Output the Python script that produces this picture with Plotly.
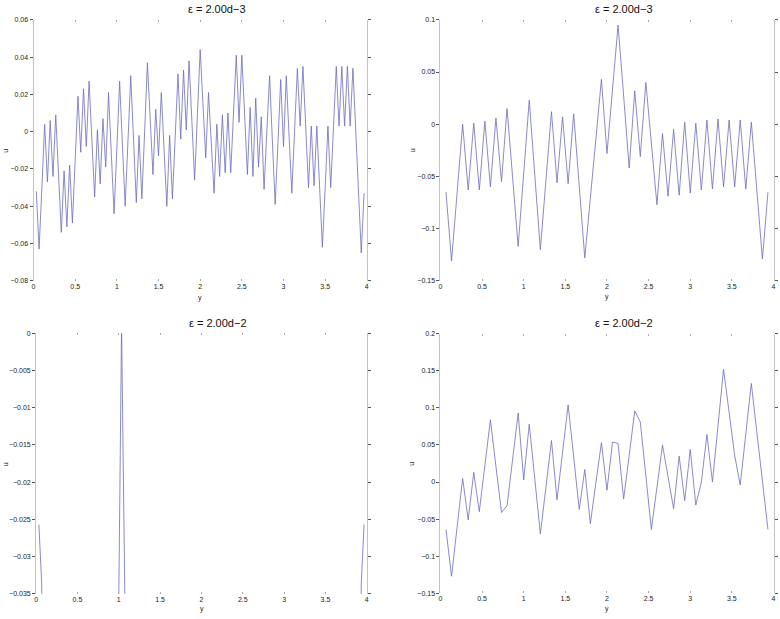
import plotly.graph_objects as go

W, H = 780, 619

# ---------------- data ----------------
tick_x = [0, 0.5, 1, 1.5, 2, 2.5, 3, 3.5, 4]
titles = ["ε = 2.00d−3", "ε = 2.00d−3", "ε = 2.00d−2", "ε = 2.00d−2"]

# top-left: grid step 1/30, k = 1..119
tl_u = [-0.032, -0.063, -0.030, 0.004, -0.027, 0.006, -0.024, 0.009, -0.023, -0.054,
        -0.021, -0.051, -0.018, -0.049, -0.015, 0.019, -0.011, 0.023, -0.008, 0.027,
        -0.004, -0.035, 0.001, -0.028, 0.007, -0.019, 0.021, -0.012, -0.044, -0.009,
        0.027, -0.007, -0.040, -0.005, 0.030, -0.004, -0.038, -0.002, -0.036, 0.000,
        0.037, 0.007, -0.023, 0.012, -0.013, 0.021, -0.010, -0.040, -0.002, -0.036,
        -0.003, 0.031, -0.004, 0.033, 0.001, 0.038, 0.006, -0.026, 0.009, 0.044,
        0.015, -0.014, 0.021, -0.006, -0.033, 0.004, -0.024, 0.009, -0.022, 0.010,
        -0.022, 0.010, 0.041, 0.005, 0.041, 0.009, -0.023, 0.013, -0.024, 0.018,
        -0.019, 0.008, -0.031, 0.000, 0.030, -0.005, -0.039, -0.006, 0.028, -0.008,
        0.030, -0.002, -0.033, 0.001, 0.034, 0.003, 0.035, 0.003, -0.030, 0.003,
        -0.029, 0.003, -0.030, -0.062, -0.030, 0.003, -0.030, 0.003, 0.035, 0.003,
        0.035, 0.003, 0.035, 0.003, 0.034, 0.001, -0.032, -0.065, -0.033]

# top-right: grid step 1/15, k = 1..59
tr_u = [-0.065, -0.131, -0.066, 0.000, -0.063, 0.001, -0.063, 0.003, -0.060, 0.006,
        -0.055, 0.015, -0.051, -0.117, -0.047, 0.023, -0.049, -0.120, -0.054, 0.012,
        -0.056, 0.007, -0.057, 0.010, -0.059, -0.128, -0.071, -0.014, 0.043, -0.028,
        0.034, 0.095, 0.027, -0.042, 0.032, -0.031, 0.040, -0.019, -0.077, -0.009,
        -0.069, -0.005, -0.068, 0.002, -0.066, 0.001, -0.063, 0.004, -0.062, 0.005,
        -0.060, 0.004, -0.060, 0.004, -0.062, 0.002, -0.064, -0.129, -0.065]

# bottom-left: only the parts inside the y range are visible (grid step 1/30)
bl_k = [1, 2, 3, None, 29, 30, 31, 32, 33, None, 117, 118, 119]
bl_u = [-0.0257, -0.0335, -0.060, None, -0.060, -0.0355, 0.001, -0.030, -0.060, None,
        -0.060, -0.0335, -0.0257]

# bottom-right: grid step 1/15, k = 1..59
br_u = [-0.064, -0.127, -0.061, 0.005, -0.051, 0.013, -0.040, 0.022, 0.084, 0.021,
        -0.041, -0.032, 0.031, 0.093, 0.003, 0.078, 0.004, -0.070, -0.007, 0.056,
        -0.024, 0.040, 0.104, 0.034, -0.037, 0.017, -0.056, -0.001, 0.053, -0.011,
        0.054, 0.052, -0.023, 0.036, 0.096, 0.081, 0.008, -0.064, -0.007, 0.050,
        0.007, -0.036, 0.035, -0.025, 0.044, -0.031, 0.000, 0.064, 0.000, 0.076,
        0.152, 0.094, 0.036, -0.004, 0.064, 0.133, 0.067, 0.002, -0.064]

y_ranges = [(-0.08, 0.06, 0.02), (-0.15, 0.1, 0.05), (-0.035, 0.0, 0.005), (-0.15, 0.2, 0.05)]

# ---------------- build ----------------
tl_x = [k / 30 for k in range(1, len(tl_u) + 1)]
tr_x = [k / 15 for k in range(1, len(tr_u) + 1)]
br_x = [k / 15 for k in range(1, len(br_u) + 1)]
bl_x = [None if k is None else k / 30 for k in bl_k]

series = [(tl_x, tl_u), (tr_x, tr_u), (bl_x, bl_u), (br_x, br_u)]

# pixel boxes (left, right, top, bottom)
boxes = [(31.7, 366.7, 16, 280), (440.7, 775.5, 16, 280),
         (34.3, 366.7, 333, 596.5), (440.7, 775.5, 333.5, 596)]
title_pos = [(216, 5.5), (625, 5.5), (217.5, 322.5), (625.5, 323)]
xlab_pos = [(199, 297), (608, 296), (201, 612), (608, 612)]
ylab_pos = [(3.5, 148), (412, 148), (3.5, 465), (412, 465)]

FONT = "Liberation Sans, Arial, sans-serif"
LINE = "#6c6cc0"

fig = go.Figure()
layout = dict(width=W, height=H, margin=dict(l=0, r=0, t=0, b=0),
              paper_bgcolor="white", plot_bgcolor="white", showlegend=False,
              font=dict(family=FONT, size=7, color="#222222"))
annotations = []

for i, ((xs, us), (l, r, t, b), (y0, y1, dy)) in enumerate(zip(series, boxes, y_ranges)):
    n = "" if i == 0 else str(i + 1)
    fig.add_trace(go.Scatter(x=xs, y=us, mode="lines", connectgaps=False,
                             line=dict(color=LINE, width=0.8),
                             xaxis="x" + n, yaxis="y" + n, hoverinfo="skip"))
    nt = int(round((y1 - y0) / dy))
    yt = [round(y0 + j * dy, 4) for j in range(nt + 1)]
    layout["xaxis" + n] = dict(domain=[l / W, r / W], range=[0, 4], anchor="y" + n,
                               tickvals=tick_x, showgrid=False, zeroline=False,
                               showline=False, ticks="inside", ticklen=2, tickwidth=1,
                               tickcolor="#aaaaaa", mirror="ticks",
                               tickfont=dict(size=7, family=FONT, color="#222222"))
    layout["yaxis" + n] = dict(domain=[1 - b / H, 1 - t / H], range=[y0, y1], anchor="x" + n,
                               tickvals=yt, showgrid=False, zeroline=False,
                               showline=True, linecolor="#c4c4c4", linewidth=1,
                               ticks="outside", ticklen=3, tickwidth=1, tickcolor="#555555",
                               mirror="ticks",
                               tickfont=dict(size=7, family=FONT, color="#222222"))
    tx, ty = title_pos[i]
    annotations.append(dict(text=titles[i], x=tx / W, y=1 - ty / H, xref="paper", yref="paper",
                            xanchor="center", yanchor="middle", showarrow=False,
                            font=dict(size=11, family=FONT, color="#111111")))
    lx, ly = xlab_pos[i]
    annotations.append(dict(text="y", x=lx / W, y=1 - ly / H, xref="paper", yref="paper",
                            xanchor="center", yanchor="middle", showarrow=False,
                            font=dict(size=7, family=FONT, color="#222222")))
    ux, uy = ylab_pos[i]
    annotations.append(dict(text="u", x=ux / W, y=1 - uy / H, xref="paper", yref="paper",
                            xanchor="center", yanchor="middle", showarrow=False, textangle=-90,
                            font=dict(size=7, family=FONT, color="#222222")))

layout["annotations"] = annotations
fig.update_layout(**layout)
fig.write_html("out.html", config={"displayModeBar": False, "staticPlot": True},
               post_script="document.body.style.margin='0';document.body.style.overflow='hidden';")
